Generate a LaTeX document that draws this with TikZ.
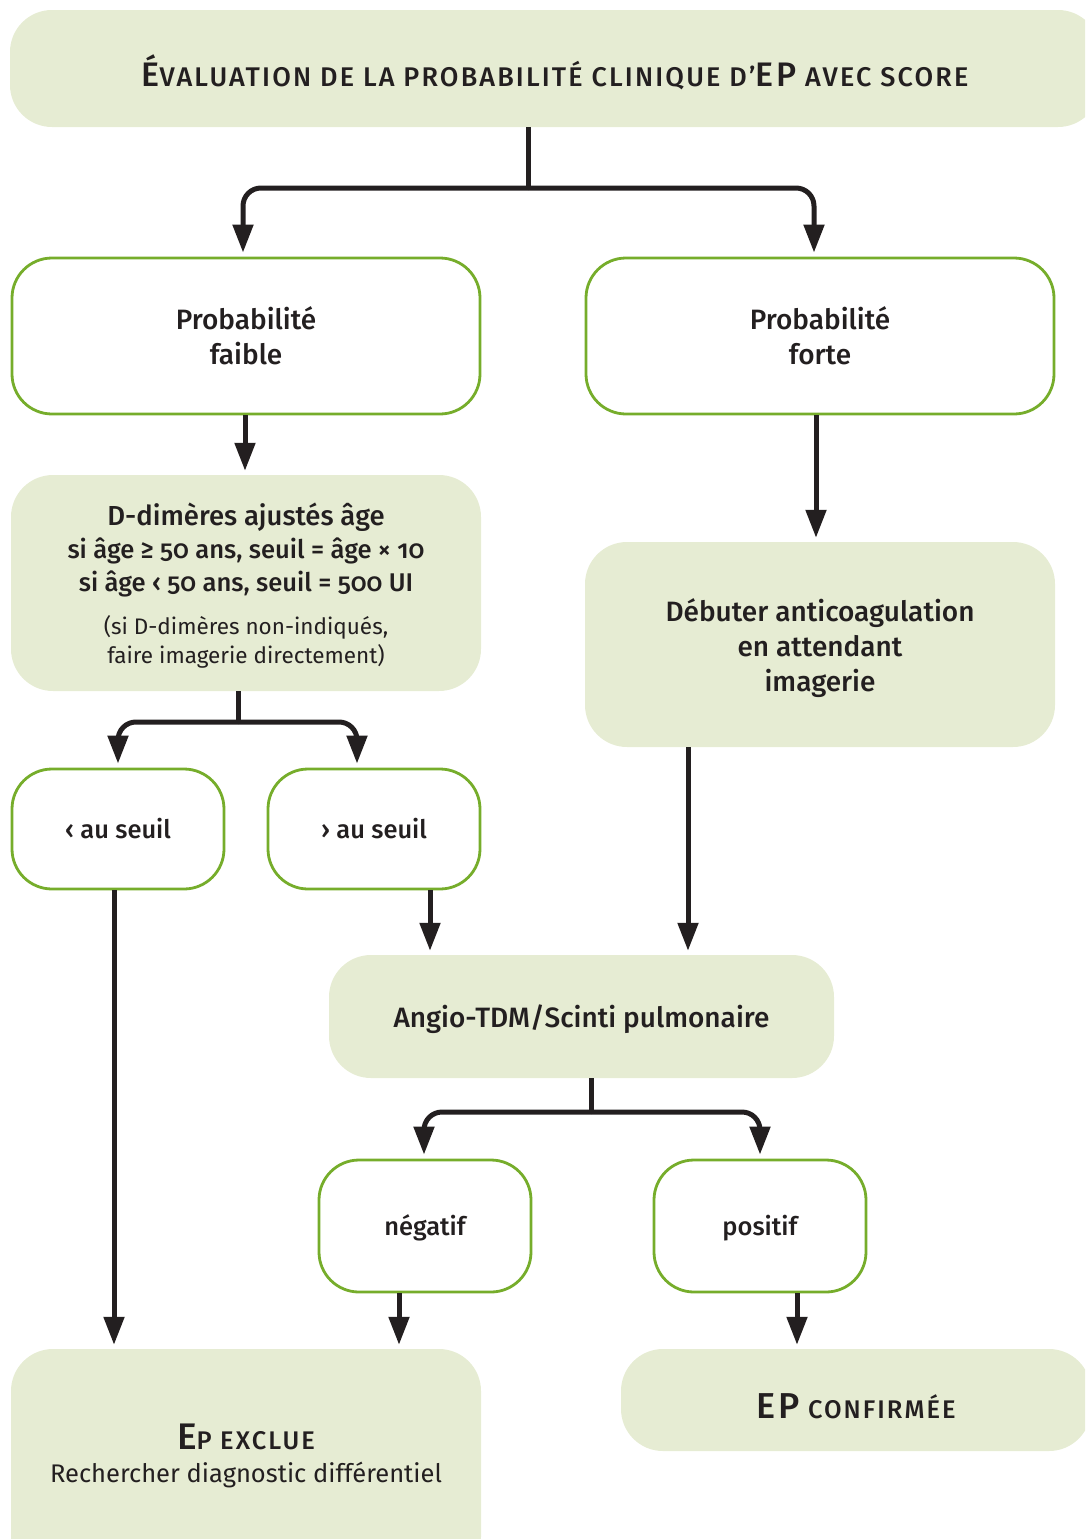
\documentclass[tikz,border=0pt]{standalone}
\usepackage{fontspec}
\setmainfont{Fira Sans}[BoldFont={Fira Sans Medium}]
\usetikzlibrary{arrows.meta,calc}
\definecolor{boxfill}{HTML}{E6ECD3}
\definecolor{boxline}{HTML}{76AD2B}
\definecolor{ink}{HTML}{231F20}
\newcommand{\capA}{\fontsize{34}{36}\selectfont}
\newcommand{\capB}{\fontsize{27}{36}\selectfont}
\newcommand{\ddline}{\fontsize{25.6}{33}\selectfont}
\newcommand{\ddnote}{\mdseries\fontsize{22.5}{29}\selectfont}
\newcommand{\shiftdown}[2]{\raisebox{-#1}[\height][\depth]{#2}}
\begin{document}
\begin{tikzpicture}[x=1pt,y=-1pt,
  filled/.style={rectangle, fill=boxfill, rounded corners=42pt, inner sep=0pt, align=center, text=ink},
  outlined/.style={rectangle, draw=boxline, line width=2.8pt, fill=white, rounded corners=40pt, inner sep=0pt, align=center, text=ink},
  lbl/.style={font=\bfseries\fontsize{28}{35}\selectfont},
  slbl/.style={font=\bfseries\fontsize{25.5}{35}\selectfont},
  conn/.style={draw=ink, line width=5pt},
  arr/.style={conn, shorten >=4pt, -{Triangle[length=28pt,width=20pt]}},
  fork/.style={arr, rounded corners=18pt}]
\useasboundingbox (0,0) rectangle (1085,1539);
\clip (0,0) rectangle (1085,1539);
% boxes
\node[filled, minimum width=1090pt, minimum height=117pt, font=\bfseries\addfontfeatures{LetterSpace=8}] (title) at (555,68.5)
  {\shiftdown{4pt}{{\capA É}{\capB VALUATION DE LA PROBABILITÉ CLINIQUE D’}{\capA EP}{\capB{} AVEC SCORE}}};
\node[outlined, lbl, minimum width=468pt, minimum height=156pt] (faible) at (246,336) {Probabilité\\faible};
\node[outlined, lbl, minimum width=468pt, minimum height=156pt] (forte) at (820,336) {Probabilité\\forte};
\node[filled, minimum width=470pt, minimum height=216pt,
      font=\bfseries\fontsize{27.5}{33}\selectfont\addfontfeatures{Numbers=OldStyle}] (ddim) at (246,583)
  {\shiftdown{3pt}{D-dimères ajustés âge}\\ {\ddline\shiftdown{3pt}{si âge ≥ 50 ans, seuil = âge × 10}}\\
   {\ddline\shiftdown{3pt}{si âge ‹ 50 ans, seuil = 500 UI}}\\[11pt]
   {\ddnote\shiftdown{2pt}{(si D-dimères non-indiqués,}}\\[-4pt]
   {\ddnote\shiftdown{2pt}{faire imagerie directement)}}};
\node[filled, lbl, minimum width=470pt, minimum height=205pt] (debut) at (820,644.5)
  {\shiftdown{4pt}{Débuter anticoagulation}\\\shiftdown{4pt}{en attendant}\\\shiftdown{4pt}{imagerie}};
\node[outlined, slbl, minimum width=212pt, minimum height=120pt] (inf) at (118,829) {‹ au seuil};
\node[outlined, slbl, minimum width=212pt, minimum height=120pt] (supseuil) at (374,829) {› au seuil};
\node[filled, lbl, minimum width=505pt, minimum height=123pt] (angio) at (581.5,1016.5) {\shiftdown{3pt}{Angio-TDM/Scinti pulmonaire}};
\node[outlined, slbl, minimum width=212pt, minimum height=132pt] (neg) at (425,1226) {\shiftdown{2pt}{négatif}};
\node[outlined, slbl, minimum width=212pt, minimum height=132pt] (pos) at (760,1226) {\shiftdown{2pt}{positif}};
\node[filled, minimum width=470pt, minimum height=230pt, font=\mdseries\fontsize{25.5}{33}\selectfont] (exclue) at (246,1464)
  {\shiftdown{-8pt}{\bfseries\addfontfeatures{LetterSpace=8}{\fontsize{37}{33}\selectfont E}{\fontsize{25.5}{33}\selectfont P EXCLUE}}\\
   \shiftdown{-8pt}{Rechercher diagnostic différentiel}};
\node[filled, minimum width=470pt, minimum height=102pt, font=\bfseries\addfontfeatures{LetterSpace=8}] (confirm) at (856,1400)
  {\shiftdown{6pt}{{\fontsize{36}{36}\selectfont EP}{\fontsize{25.5}{36}\selectfont{} CONFIRMÉE}}};
% connectors
\coordinate (f1) at (528,188);
\draw[conn] ([xshift=-27pt]title.south) -- (f1);
\draw[fork] (f1) -| ([xshift=-3pt]faible.north);
\draw[fork] (f1) -| ([xshift=-6pt]forte.north);
\draw[arr] ([xshift=-1pt]faible.south) -- ([xshift=-1pt]ddim.north);
\draw[arr] ([xshift=-4pt]forte.south) -- ([xshift=-4pt]debut.north);
\coordinate (f2) at (238,722);
\draw[conn] ([xshift=-8pt]ddim.south) -- (f2);
\draw[fork] (f2) -| (inf.north);
\draw[fork] (f2) -| ([xshift=-17pt]supseuil.north);
\draw[arr] ([xshift=-4pt]inf.south) -- ([xshift=-4pt]inf.south |- exclue.north);
\draw[arr] ([xshift=56pt]supseuil.south) -- ([xshift=56pt]supseuil.south |- angio.north);
\draw[arr] ([xshift=-132pt]debut.south) -- ([xshift=-132pt]debut.south |- angio.north);
\coordinate (f3) at (591,1112);
\draw[conn] ([xshift=9.5pt]angio.south) -- (f3);
\draw[fork] (f3) -| ([xshift=-1pt]neg.north);
\draw[fork] (f3) -| (pos.north);
\draw[arr] ([xshift=-26pt]neg.south) -- ([xshift=-26pt]neg.south |- exclue.north);
\draw[arr] ([xshift=37pt]pos.south) -- ([xshift=37pt]pos.south |- confirm.north);
\end{tikzpicture}
\end{document}
